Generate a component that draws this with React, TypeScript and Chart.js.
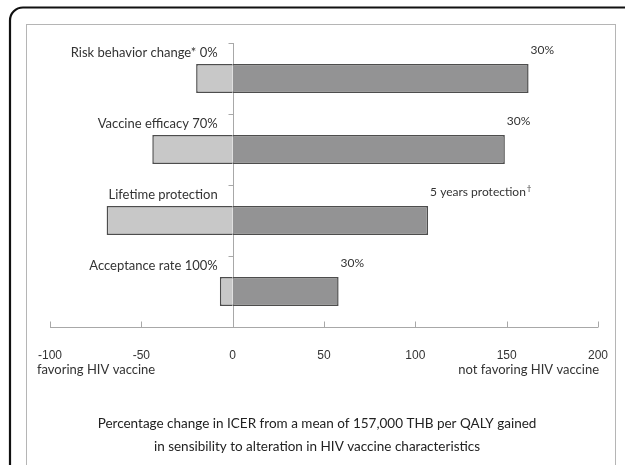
import React, { useEffect, useRef } from "react";
import { Chart, registerables } from "chart.js";

Chart.register(...registerables);

const categories = [
  "Risk behavior change* 0%",
  "Vaccine efficacy 70%",
  "Lifetime protection",
  "Acceptance rate 100%",
];
const favoringValues = [-20, -44, -69, -7];
const notFavoringValues = [162, 149, 107, 58];
const upperLabels = ["30%", "30%", "5 years protection", "30%"];
const upperLabelMarks = ["", "", "\u2020", ""];
const xMin = -100;
const xMax = 200;
const xStep = 50;
const leftAxisNote = "favoring HIV vaccine";
const rightAxisNote = "not favoring HIV vaccine";
const titleLines = [
  "Percentage change in ICER from a mean of 157,000 THB per QALY gained",
  "in sensibility to alteration in HIV vaccine characteristics",
];

const LABEL_FONT = "Lato, 'Open Sans', sans-serif";

const decorPlugin = {
  id: "decor",
  beforeDraw(chart: any) {
    const ctx = chart.ctx;
    ctx.save();
    ctx.fillStyle = "#ffffff";
    ctx.fillRect(0, 0, chart.width, chart.height);
    ctx.strokeStyle = "#111111";
    ctx.lineWidth = 2.2;
    ctx.beginPath();
    const r = 13;
    const x0 = 10,
      y0 = 7.5;
    ctx.moveTo(x0, chart.height + 10);
    ctx.lineTo(x0, y0 + r);
    ctx.arcTo(x0, y0, x0 + r, y0, r);
    ctx.lineTo(chart.width + 10, y0);
    ctx.stroke();
    ctx.strokeStyle = "#b5b5b5";
    ctx.lineWidth = 1;
    ctx.strokeRect(26.5, 24.5, 589, chart.height + 20);
    ctx.restore();
  },
  beforeDatasetsDraw(chart: any) {
    const ctx = chart.ctx;
    const xs = chart.scales.x;
    const area = chart.chartArea;
    const zeroX = Math.round(xs.getPixelForValue(0)) + 0.5;
    ctx.save();
    ctx.strokeStyle = "#a8a8a8";
    ctx.lineWidth = 1;
    ctx.beginPath();
    ctx.moveTo(zeroX, area.top);
    ctx.lineTo(zeroX, area.bottom);
    const n = categories.length;
    const band = (area.bottom - area.top) / n;
    for (let i = 0; i < n; i++) {
      const y = Math.round(area.top + band * i) + 0.5;
      ctx.moveTo(zeroX - 5, y);
      ctx.lineTo(zeroX, y);
    }
    const by = Math.round(area.bottom) + 0.5;
    ctx.moveTo(area.left, by);
    ctx.lineTo(area.right, by);
    xs.ticks.forEach((t: any) => {
      const px = Math.round(xs.getPixelForValue(t.value)) + 0.5;
      ctx.moveTo(px, by);
      ctx.lineTo(px, by - 6);
    });
    ctx.stroke();
    ctx.restore();
  },
  afterDraw(chart: any) {
    const ctx = chart.ctx;
    const xs = chart.scales.x;
    const ys = chart.scales.y;
    const area = chart.chartArea;
    const zeroX = xs.getPixelForValue(0);
    const n = categories.length;
    const band = (area.bottom - area.top) / n;
    ctx.save();
    ctx.fillStyle = "#333333";
    ctx.textBaseline = "middle";
    ctx.font = `13px ${LABEL_FONT}`;
    ctx.textAlign = "right";
    categories.forEach((c, i) => {
      const y = area.top + band * i + 10;
      ctx.fillText(c, zeroX - 15, y);
    });
    ctx.font = `12px ${LABEL_FONT}`;
    ctx.textAlign = "left";
    const meta = chart.getDatasetMeta(1);
    upperLabels.forEach((lab, i) => {
      const bar = meta.data[i];
      const x = xs.getPixelForValue(notFavoringValues[i]) + 2;
      const y = ys.getPixelForValue(i) - bar.height / 2 - 14;
      ctx.fillText(lab, x, y);
      if (upperLabelMarks[i]) {
        const w = ctx.measureText(lab).width;
        ctx.font = `8px ${LABEL_FONT}`;
        ctx.fillText(upperLabelMarks[i], x + w + 1, y - 4);
        ctx.font = `12px ${LABEL_FONT}`;
      }
    });
    ctx.font = `13px ${LABEL_FONT}`;
    ctx.textAlign = "left";
    ctx.fillText(leftAxisNote, 37, 370);
    ctx.textAlign = "right";
    ctx.fillText(rightAxisNote, area.right + 1, 370);
    ctx.fillStyle = "#222222";
    ctx.font = `13.5px ${LABEL_FONT}`;
    ctx.textAlign = "center";
    ctx.fillText(titleLines[0], 317, 424);
    ctx.fillText(titleLines[1], 317, 447);
    ctx.restore();
  },
};

export default function App() {
  const ref = useRef<HTMLCanvasElement | null>(null);
  useEffect(() => {
    if (!ref.current) return;
    const chart = new Chart(ref.current, {
      type: "bar",
      data: {
        labels: categories,
        datasets: [
          {
            label: "favoring",
            data: favoringValues,
            backgroundColor: "#c8c8c8",
            borderColor: "#4d4d4d",
            borderWidth: 1.5,
          },
          {
            label: "not favoring",
            data: notFavoringValues,
            backgroundColor: "#939394",
            borderColor: "#4d4d4d",
            borderWidth: 1.5,
          },
        ],
      },
      options: {
        indexAxis: "y",
        responsive: false,
        animation: false,
        devicePixelRatio: 1,
        categoryPercentage: 1,
        barPercentage: 0.41,
        layout: { padding: { left: 50, right: 27, top: 43, bottom: 98 } },
        plugins: {
          legend: { display: false },
          tooltip: { enabled: false },
        },
        scales: {
          y: { type: "category", display: false, stacked: true },
          x: {
            type: "linear",
            stacked: true,
            min: xMin,
            max: xMax,
            afterFit: (scale: any) => {
              scale.height = 40;
            },
            ticks: {
              stepSize: xStep,
              color: "#333333",
              font: { family: "'Liberation Sans', Arial, sans-serif", size: 12 },
              padding: 13,
            },
            grid: { display: false },
            border: { display: false },
          },
        },
      } as any,
      plugins: [decorPlugin],
    });
    return () => chart.destroy();
  }, []);
  return (
    <div style={{ position: "fixed", left: 0, top: 0, width: 625, height: 465, background: "#fff" }}>
      <canvas ref={ref} width={625} height={465} style={{ display: "block" }} />
    </div>
  );
}
